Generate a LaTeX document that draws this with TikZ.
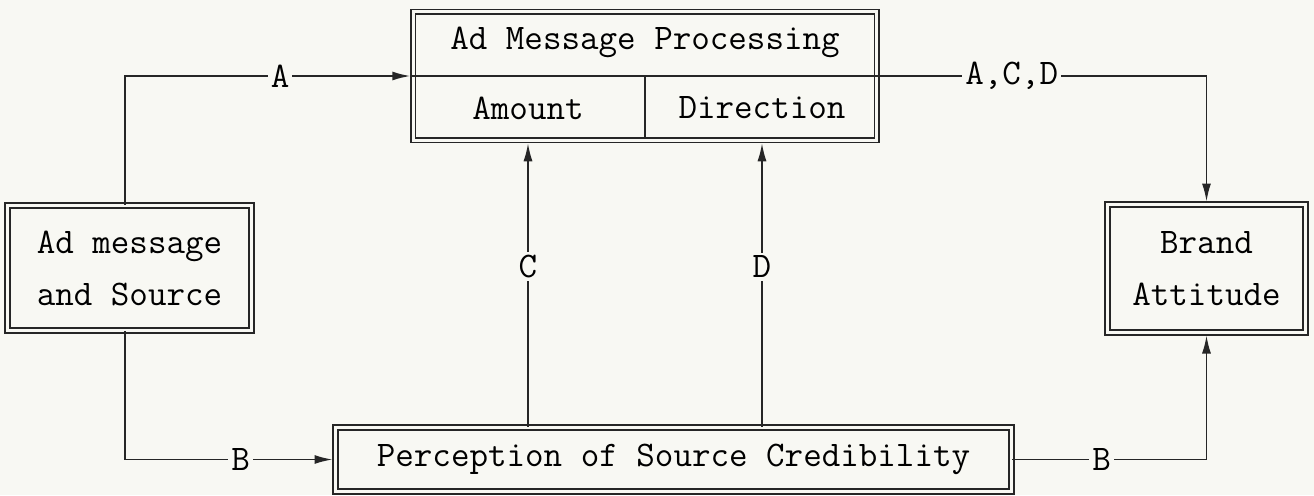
\documentclass[tikz,border=0pt]{standalone}
\usepackage{tikz}
\usetikzlibrary{arrows.meta, positioning}
\definecolor{paper}{RGB}{248,248,243}
\tikzset{every node/.style={font=\ttfamily\fontsize{18}{26}\selectfont}}

\begin{document}
\begin{tikzpicture}[x=0.5pt, y=-0.5pt]
    % Define styles
    \tikzstyle{dblbox} = [rectangle, draw=black!85, line width=0.8pt, double=paper, double distance=1.5pt, inner sep=0pt, align=center]
    \tikzstyle{lbl} = [fill=paper, inner sep=1.5pt]
    \tikzstyle{arrow} = [line width=0.8pt, draw=black!85, -{Latex[length=9pt, width=4.5pt]}, shorten >=1.1pt]
    \tikzstyle{plain} = [line width=0.8pt, draw=black!85]

    % Page
    \fill[paper] (0,0) rectangle (1314,495);
    \useasboundingbox (0,0) rectangle (1314,495);

    % Ad message processing (split box)
    \node (proc) [dblbox, minimum width=231.75pt, minimum height=64.25pt] at (645, 76) {};
    \node (title) at (645, 42) {Ad Message Processing};
    \node (amount) at (528, 108) {Amount};
    \node (direction) at (762, 108) {Direction};
    \draw [plain] (proc.west) -- (proc.east);
    \draw [plain, shorten <=1.5pt] (proc.south) -- (proc.center);

    % Source and outcome boxes
    \node (ad) [dblbox, minimum width=122pt, minimum height=62.5pt] at (129.5, 268) {Ad message\\and Source};
    \node (brand) [dblbox, minimum width=99pt, minimum height=64pt] at (1206.5, 268.5) {Brand\\Attitude};
    \node (cred) [dblbox, minimum width=338pt, minimum height=32pt] at (673.5, 459.5) {Perception of Source Credibility};

    % Route A (top left)
    \draw [arrow] ([xshift=-2.25pt]ad.north) |- (proc.west) node[lbl, pos=0.77] {A};

    % Route A,C,D (top right)
    \draw [arrow] (proc.east) -| (brand.north) node[lbl, pos=0.204] {A,C,D};

    % Route B (bottom)
    \draw [arrow] ([xshift=-2.25pt]ad.south) |- (cred.west) node[lbl, pos=0.776] {B};
    \draw [arrow] (cred.east) -| (brand.south) node[lbl, pos=0.23] {B};

    % Routes C and D (credibility to processing)
    \draw [arrow] (cred.north -| amount) -- (proc.south -| amount) node[lbl, pos=0.56] {C};
    \draw [arrow] (cred.north -| direction) -- (proc.south -| direction) node[lbl, pos=0.56] {D};
\end{tikzpicture}
\end{document}
